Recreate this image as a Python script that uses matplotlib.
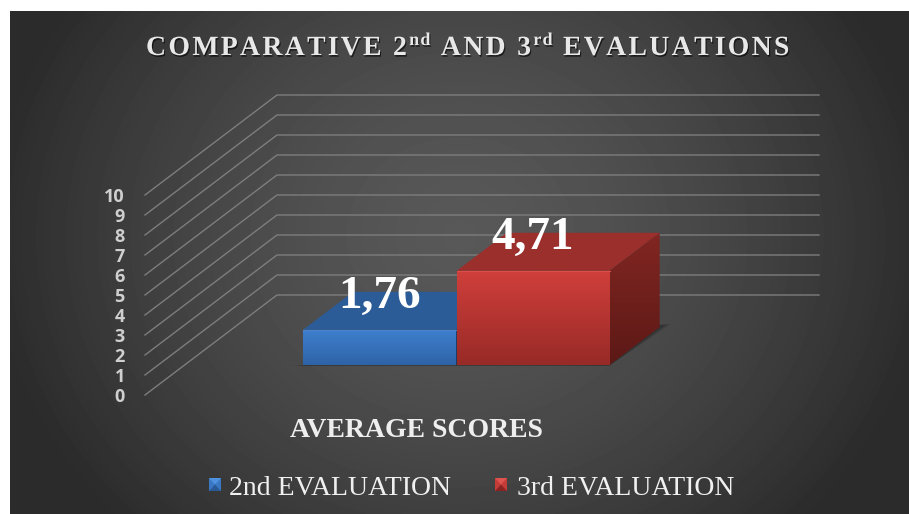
import numpy as np
import matplotlib
matplotlib.use('Agg')
import matplotlib.pyplot as plt
import matplotlib.patheffects as pe
from matplotlib.font_manager import FontProperties
from matplotlib.patches import Polygon, Rectangle

# DATA
series_names = ['2nd EVALUATION', '3rd EVALUATION']
scores = [1.76, 4.71]
score_labels = ['1,76', '4,71']
tick_values = list(range(0, 11))
category = 'AVERAGE SCORES'
title_parts = [('COMPARATIVE 2', False), ('nd', True), (' AND 3', False), ('rd', True), (' EVALUATIONS', False)]

W, H = 909, 514
SERIF = 'Liberation Serif'

# 3d look : how far the back wall sits from the front plane
DX = 132 / 542.
DY = 5.
BAR_D0, BAR_D1 = 0.30, 0.68
BAR_X0 = 0.2185
BAR_W = 0.2835


def proj(x, y, d):
    return x + d * DX, y + d * DY


fig = plt.figure(figsize=(W / 100., H / 100.), dpi=100, facecolor='white')

# background panel, in pixels
bg = fig.add_axes([0, 0, 1, 1])
bg.set_xlim(0, W)
bg.set_ylim(H, 0)
bg.axis('off')
yy, xx = np.mgrid[0:503, 0:899]
r = np.sqrt(((xx - 450) / 480.) ** 2 + ((yy - 225) / 420.) ** 2)
shade = np.clip(0.345 - 0.18 * r ** 1.5, 0.17, 1)
bg.imshow(shade, extent=(10, 909, 514, 11), cmap='gray', vmin=0, vmax=1, aspect='auto', zorder=0)
bg.set_xlim(0, W)
bg.set_ylim(H, 0)

# chart axes : front plane of the 3d box
ax = fig.add_axes([145. / W, 1 - 395. / H, 542. / W, 200. / H])
ax.set_xlim(0, 1)
ax.set_ylim(0, 10)
ax.patch.set_alpha(0)
for s in ax.spines.values():
    s.set_visible(False)
ax.set_xticks([])
ax.set_yticks(tick_values)
ax.tick_params(axis='y', length=0, pad=14.5)
for lab in ax.get_yticklabels():
    lab.set_fontfamily('Open Sans')
    lab.set_fontweight('bold')
    lab.set_fontsize(13)
    lab.set_color('#cfcfcf')

# gridlines
for v in tick_values:
    x1, y1 = proj(0, v, 1)
    x2, y2 = proj(1, v, 1)
    ax.plot([0, x1, x2], [v, y1, y2], color='#7d7d7d', lw=1.0, clip_on=False, zorder=1)


def face(x0, x1, y0, y1, d0, d1, c_top, c_bot, shape, zorder):
    # gradient filled polygon, shape = front / side
    if shape == 'front':
        pts = [proj(x0, y0, d0), proj(x1, y0, d0), proj(x1, y1, d0), proj(x0, y1, d0)]
    else:
        pts = [proj(x1, y0, d0), proj(x1, y0, d1), proj(x1, y1, d1), proj(x1, y1, d0)]
    pts = np.array(pts)
    poly = Polygon(pts, closed=True, fc='none', ec='none', zorder=zorder, clip_on=False)
    ax.add_patch(poly)
    t = np.linspace(0, 1, 64)[:, None]
    img = np.array(c_top)[None, :] * (1 - t) + np.array(c_bot)[None, :] * t
    im = ax.imshow(img[:, None, :], extent=(pts[:, 0].min(), pts[:, 0].max(), pts[:, 1].min(), pts[:, 1].max()),
                   origin='upper', aspect='auto', zorder=zorder, clip_on=True)
    im.set_clip_path(poly)


col = matplotlib.colors.to_rgb
styles = [
    dict(top='#2b5c97', f1='#3f7fce', f2='#2e64a6', s1='#24497a', s2='#1c3a62', rim='#4a86d0'),
    dict(top='#9b2f2c', f1='#d03f3b', f2='#982a27', s1='#822622', s2='#5c1916', rim='#d9504b'),
]

# floor shadow under the bars
x_end = BAR_X0 + 2 * BAR_W
for grow, a in zip([0.022, 0.014, 0.007], [0.08, 0.1, 0.14]):
    sh = [proj(BAR_X0 - grow, 0, BAR_D0 - 0.008), proj(x_end, 0, BAR_D0 - 0.008),
          proj(x_end + grow * 0.6, 0, BAR_D1 + 0.03), proj(BAR_X0 + 0.02, 0, BAR_D0 + 0.012)]
    ax.add_patch(Polygon(sh, closed=True, fc='black', ec='none', alpha=a, zorder=2, clip_on=False))

for i, v in enumerate(scores):
    x0 = BAR_X0 + i * BAR_W
    x1 = x0 + BAR_W - 0.0015
    st = styles[i]
    z = 3 + i
    ax.add_patch(Polygon([proj(x0, v, BAR_D0), proj(x1, v, BAR_D0), proj(x1, v, BAR_D1), proj(x0, v, BAR_D1)],
                         closed=True, fc=st['top'], ec='none', zorder=z, clip_on=False))
    face(x0, x1, 0, v, BAR_D0, BAR_D1, col(st['s1']), col(st['s2']), 'side', z)
    face(x0, x1, 0, v, BAR_D0, BAR_D1, col(st['f1']), col(st['f2']), 'front', z)
    ax.plot(*zip(proj(x0, v, BAR_D0), proj(x1, v, BAR_D0)), color=st['rim'], lw=0.8, zorder=z, clip_on=False)
    xc, yc = proj(x0 + BAR_W / 2., v, BAR_D0)
    ax.annotate(score_labels[i], (xc, yc), xytext=(-0.5, 15.5), textcoords='offset points', ha='center', va='baseline',
                family=SERIF, weight='bold', fontsize=34, color='white', zorder=10, annotation_clip=False)
ax.set_xlim(0, 1)
ax.set_ylim(0, 10)

# title, spaced out letter by letter
shadow = [pe.withSimplePatchShadow(offset=(0.8, -1.2), shadow_rgbFace='black', alpha=0.6)]
renderer = fig.canvas.get_renderer()


def adv(c, size):
    prop = FontProperties(family=SERIF, weight='bold', size=size)
    a = renderer.get_text_width_height_descent('H' + c + 'H', prop, False)[0]
    b = renderer.get_text_width_height_descent('HH', prop, False)[0]
    return a - b


x = 146.
for part, sup in title_parts:
    size = 13 if sup else 20
    for c in part:
        if c != ' ':
            bg.text(x, 45 if sup else 55, c, family=SERIF, weight='bold', fontsize=size, color='#e8e8e8',
                    ha='left', va='baseline', path_effects=shadow, zorder=5)
        x += adv(c, size) + (1.2 if sup else 2.3)

bg.text(416, 437, category, family=SERIF, weight='bold', fontsize=20, color='#eeeeee', ha='center', va='baseline', zorder=5)

# legend
legend_x = [(209, 229), (495, 517)]
legend_c = [('#4f92e0', '#3a78c4', '#2a5a96'), ('#e0544f', '#c43c38', '#8a2422')]
for (mx, tx), name, c in zip(legend_x, series_names, legend_c):
    m = (mx + 6, 484.5)
    bg.add_patch(Rectangle((mx, 478), 12, 13, fc=c[1], ec='none', zorder=5))
    bg.add_patch(Polygon([(mx, 478), (mx + 12, 478), m], closed=True, fc=c[0], ec='none', zorder=6))
    bg.add_patch(Polygon([(mx, 491), (mx + 12, 491), m], closed=True, fc=c[2], ec='none', zorder=6))
    bg.text(tx, 495, name, family=SERIF, fontsize=20, color='#f0f0f0', ha='left', va='baseline', zorder=5)

fig.savefig('out.png', dpi=100, facecolor='white')
